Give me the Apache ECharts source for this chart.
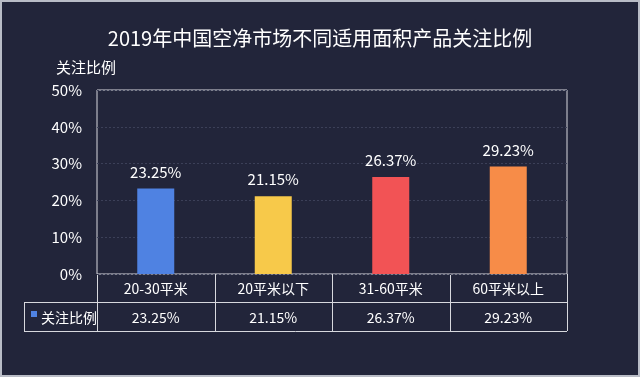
<!DOCTYPE html>
<html>
<head>
<meta charset="utf-8">
<script src="https://cdn.jsdelivr.net/npm/echarts@6/dist/echarts.min.js"></script>
<style>
html,body{margin:0;padding:0;background:#22253a;}
#main{width:640px;height:377px;}
</style>
</head>
<body>
<div id="main"></div>
<script>
// 数据
var categories = ['20-30平米', '20平米以下', '31-60平米', '60平米以上'];
var values = [23.25, 21.15, 26.37, 29.23];
var barColors = ['#4f82e2', '#f7c94a', '#f25355', '#f78c48'];
var seriesName = '关注比例';
var yTicks = [0, 10, 20, 30, 40, 50];

var FONT = '"Noto Sans CJK SC", "Noto Sans", sans-serif';
var gridLeft = 97, gridRight = 567, gridTop = 90, gridBottom = 274;
var row1 = 302, row2 = 331, tableLeft = 24;
var lineColor = '#d8d9de';

var myChart = echarts.init(document.getElementById('main'));

// 表格（数据表）
var graphics = [];
function hline(x1, x2, y) {
    graphics.push({type: 'line', shape: {x1: x1, y1: y, x2: x2, y2: y}, style: {stroke: lineColor, lineWidth: 1}, silent: true});
}
function vline(x, y1, y2) {
    graphics.push({type: 'line', shape: {x1: x, y1: y1, x2: x, y2: y2}, style: {stroke: lineColor, lineWidth: 1}, silent: true});
}
var colW = (gridRight - gridLeft) / categories.length;
hline(gridLeft, gridRight, row1 + 0.5);
hline(tableLeft, gridRight, row2 + 0.5);
hline(tableLeft, gridLeft, row1 + 0.5);
vline(tableLeft + 0.5, row1, row2);
for (var i = 0; i <= categories.length; i++) {
    var x = Math.round(gridLeft + colW * i) + 0.5;
    vline(x, gridBottom, row2);
}
for (var j = 0; j < categories.length; j++) {
    var cx = gridLeft + colW * (j + 0.5);
    graphics.push({type: 'text', x: cx, y: (gridBottom + row1) / 2 + 1, style: {text: categories[j], fill: '#fff', font: '14px ' + FONT, textAlign: 'center', textVerticalAlign: 'middle'}, silent: true});
    graphics.push({type: 'text', x: cx, y: (row1 + row2) / 2 + 1, style: {text: values[j].toFixed(2) + '%', fill: '#fff', font: '14px ' + FONT, textAlign: 'center', textVerticalAlign: 'middle'}, silent: true});
}
graphics.push({type: 'rect', shape: {x: 31, y: 311, width: 6, height: 6}, style: {fill: barColors[0]}, silent: true});
graphics.push({type: 'text', x: 41, y: (row1 + row2) / 2 + 1, style: {text: seriesName, fill: '#fff', font: '14px ' + FONT, textVerticalAlign: 'middle'}, silent: true});
// 外边框
graphics.push({type: 'rect', shape: {x: 1, y: 1, width: 638, height: 375}, style: {fill: 'none', stroke: '#b9bcc6', lineWidth: 2}, silent: true});

var option = {
    backgroundColor: '#22253a',
    textStyle: {fontFamily: FONT},
    title: {
        text: '2019年中国空净市场不同适用面积产品关注比例',
        left: 'center',
        top: 23,
        textStyle: {color: '#fff', fontSize: 20, fontWeight: 'normal', fontFamily: FONT}
    },
    grid: {
        left: gridLeft,
        right: 640 - gridRight,
        top: gridTop,
        bottom: 377 - gridBottom,
        show: true,
        borderColor: lineColor,
        borderWidth: 1
    },
    xAxis: {
        type: 'category',
        data: categories,
        axisLine: {show: false},
        axisTick: {show: false},
        axisLabel: {show: false}
    },
    yAxis: {
        type: 'value',
        min: yTicks[0],
        max: yTicks[yTicks.length - 1],
        interval: 10,
        name: seriesName,
        nameLocation: 'end',
        nameGap: 15,
        nameTextStyle: {color: '#fff', fontSize: 15, align: 'center', padding: [0, 22, 0, 0], fontFamily: FONT},
        axisLine: {show: false},
        axisTick: {show: false},
        axisLabel: {color: '#fff', fontSize: 15, margin: 15, formatter: '{value}%', fontFamily: FONT},
        splitLine: {lineStyle: {color: '#3c4058', type: [2, 2]}}
    },
    series: [{
        name: seriesName,
        type: 'bar',
        barWidth: 37,
        data: values.map(function (v, k) {
            return {value: v, itemStyle: {color: barColors[k]}};
        }),
        label: {
            show: true,
            position: 'top',
            distance: 9,
            color: '#fff',
            fontSize: 15,
            fontFamily: FONT,
            formatter: function (p) { return p.value.toFixed(2) + '%'; }
        }
    }],
    graphic: graphics
};

myChart.setOption(option);
</script>
</body>
</html>
